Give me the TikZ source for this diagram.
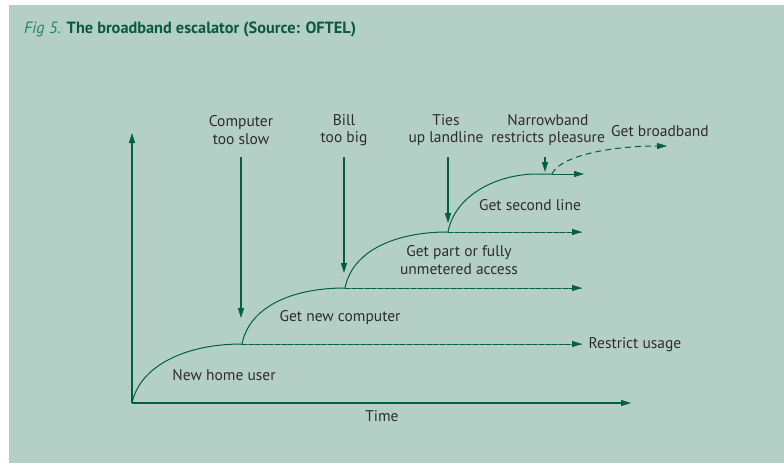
\documentclass[tikz,border=0pt]{standalone}
\usepackage{fontspec}
\setmainfont{PT Sans}
\usetikzlibrary{arrows.meta}
\definecolor{bgc}{RGB}{180,207,198}
\definecolor{ln}{RGB}{0,96,64}
\definecolor{lnlight}{RGB}{80,140,115}
\definecolor{txt}{RGB}{45,45,45}
\definecolor{figc}{RGB}{40,130,95}
\definecolor{titc}{RGB}{10,90,60}
\begin{document}
\begin{tikzpicture}[x=1pt,y=-1pt,
  lbl/.style={font=\fontsize{15.5}{17.5}\selectfont, text=txt, align=center, inner sep=0pt},
  axis/.style={draw=ln, line width=1.3pt, -{Triangle[length=10pt,width=6pt]}},
  curve/.style={draw=ln, line width=1pt},
  trig/.style={draw=ln, line width=1.1pt, -{Triangle[length=10pt,width=6pt]}},
  dline/.style={draw=ln, line width=1pt, dash pattern=on 5pt off 1.6pt, -{Triangle[length=10pt,width=6pt]}},
  dunder/.style={draw=lnlight, line width=0.8pt},
  dcurve/.style={draw=ln, line width=1pt, dash pattern=on 6pt off 4pt, -{Triangle[length=10pt,width=6pt]}},
  sline/.style={draw=ln, line width=1pt, -{Triangle[length=10pt,width=6pt]}}]
\useasboundingbox (0,0) rectangle (784,463);
\fill[white] (0,0) rectangle (784,463);
\fill[bgc] (9,5) rectangle (784,463);
% title
\node[anchor=base west, inner sep=0pt, font=\fontsize{16.3}{18}\selectfont] (title) at (24,33)
  {\textcolor{figc}{\itshape Fig 5.} \textcolor{titc}{\bfseries The broadband escalator (Source: OFTEL)}};
% coordinates
\coordinate (O) at (132,403);
\coordinate (Yt) at (132,133);
\coordinate (Xt) at (631,403);
\coordinate (p1) at (242,344);
\coordinate (p2) at (345,288);
\coordinate (p3) at (448,232);
\coordinate (p4) at (552,174);
\coordinate (e1) at (582,344);
\coordinate (e2) at (582,288);
\coordinate (e3) at (582,232);
\coordinate (e4) at (584,174);
\coordinate (bb) at (667,146);
\coordinate (a1s) at (241,157);
\coordinate (a1e) at (241,318);
\coordinate (a2s) at (344,157);
\coordinate (a2e) at (344,273);
\coordinate (a3s) at (448,157);
\coordinate (a3e) at (448,223);
\coordinate (a4s) at (545,157);
\coordinate (a4e) at (545,172);
% axes
\draw[axis] (O) -- (Yt);
\draw[axis] (O) -- (Xt);
% curves
\draw[curve] (O) .. controls (140,366) and (185,344) .. (p1);
\draw[curve] (p1) .. controls (249,308) and (290,288) .. (p2);
\draw[curve] (p2) .. controls (352,252) and (393,232) .. (p3);
\draw[curve] (p3) .. controls (455,195) and (497,174) .. (537,174) -- (p4);
% flat lines
\draw[dunder] (p1) -- (e1);
\draw[dline] (p1) -- (e1);
\draw[dunder] (p2) -- (e2);
\draw[dline] (p2) -- (e2);
\draw[dunder] (p3) -- (e3);
\draw[dline] (p3) -- (e3);
\draw[sline] (p4) -- (e4);
\draw[dcurve] (p4) .. controls (560,156) and (610,146) .. (bb);
% trigger arrows
\draw[trig] (a1s) -- (a1e);
\draw[trig] (a2s) -- (a2e);
\draw[trig] (a3s) -- (a3e);
\draw[trig] (a4s) -- (a4e);
% labels
\node[lbl] (t1) at (241,130) {Computer\\too slow};
\node[lbl] (t2) at (344,130) {Bill\\too big};
\node[lbl] (t3) at (446,130) {Ties\\up landline};
\node[lbl] (t4) at (548,130) {Narrowband\\restricts pleasure};
\node[lbl] (gb) at (660,131) {Get broadband};
\node[lbl] (gs) at (530,205) {Get second line};
\node[lbl] (gp) at (459,260) {Get part or fully\\unmetered access};
\node[lbl] (gn) at (340,318) {Get new computer};
\node[lbl] (ru) at (635,345) {Restrict usage};
\node[lbl] (nh) at (224,375) {New home user};
\node[lbl] (tm) at (382,416) {Time};
\end{tikzpicture}
\end{document}
